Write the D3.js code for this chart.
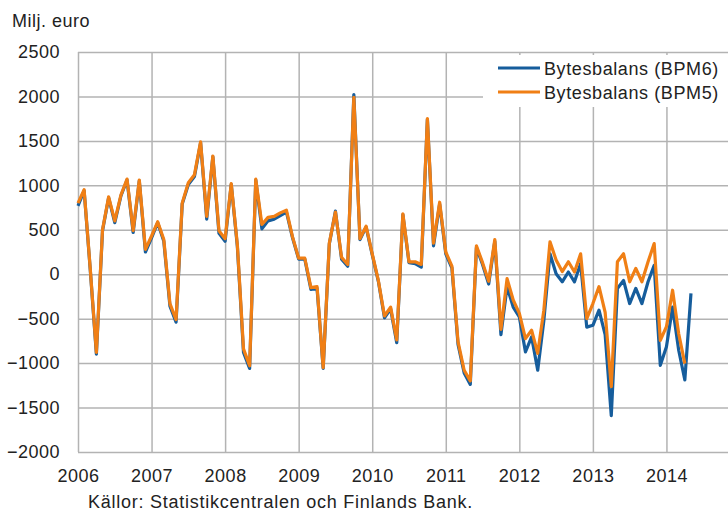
<!DOCTYPE html>
<html>
<head>
<meta charset="utf-8">
<script src="https://cdn.jsdelivr.net/npm/d3@7"></script>
<style>
  body { margin: 0; background: #fff; }
  svg { display: block; font-family: "Liberation Sans", Arial, sans-serif; }
  .grid line { stroke: #b3b3b3; stroke-width: 1.5px; }
  .grid path { display: none; }
  .grid text { font-size: 18px; fill: #222; letter-spacing: 0.5px; }
</style>
</head>
<body>
<svg id="chart" width="728" height="514"></svg>
<script>
"use strict";

// year tick labels
var years = [2006, 2007, 2008, 2009, 2010, 2011, 2012, 2013, 2014];

// y ticks
var y_ticks = [-2000, -1500, -1000, -500, 0, 500, 1000, 1500, 2000, 2500];

// monthly values from Jan 2006, milj. euro
var bpm6 = [
  770, 940, 50, -900, 490, 860, 580, 880, 1060, 470, 1050, 250,
  410, 580, 370, -360, -540, 790, 1010, 1100, 1480, 620, 1320, 460,
  370, 1010, 310, -880, -1060, 1060, 510, 600, 620, 660, 700, 410,
  170, 170, -170, -160, -1060, 340, 710, 170, 90, 2020, 390, 530,
  220, -80, -490, -390, -770, 670, 130, 120, 80, 1740, 320, 790,
  230, 70, -790, -1110, -1240, 300, 110, -110, 370, -680, -140, -370,
  -480, -875, -705, -1080, -520, 230, 5, -85, 25, -85, 120, -595,
  -575, -405, -680, -1590, -160, -70, -330, -160, -330, -85, 100, -1025,
  -815, -370, -855, -1190, -215
];

var bpm5 = [
  800, 950, 60, -880, 500, 870, 600, 890, 1070, 490, 1060, 280,
  430, 590, 390, -330, -510, 800, 1030, 1120, 1490, 650, 1330, 490,
  400, 1020, 330, -840, -1030, 1070, 560, 640, 650, 690, 720, 420,
  180, 180, -150, -140, -1050, 350, 700, 190, 110, 1990, 400, 540,
  230, -70, -470, -370, -740, 680, 140, 140, 110, 1750, 350, 810,
  250, 90, -760, -1080, -1200, 320, 130, -80, 390, -620, -50, -290,
  -440, -725, -630, -890, -405, 365, 160, 30, 140, 25, 230, -500,
  -330, -140, -430, -1265, 140, 230, -85, 65, -85, 140, 345, -745,
  -590, -180, -670, -1005
];

var series = [
  { name: "Bytesbalans (BPM6)", values: bpm6, color: "#165d9c" },
  { name: "Bytesbalans (BPM5)", values: bpm5, color: "#f07f15" }
];

var svg = d3.select("#chart"),
  chart_width = 728,
  plot_left = 78,
  plot_top = 52,
  plot_bottom = 452;

// months since Jan 2006
var x = d3.scaleLinear()
  .domain([0, 108])
  .range([plot_left, 740]);

var y = d3.scaleLinear()
  .domain([-2000, 2500])
  .range([plot_bottom, plot_top]);

// horizontal grid + y labels
svg.append("g")
  .attr("class", "grid")
  .attr("transform", "translate(" + plot_left + ",0)")
  .call(d3.axisLeft(y)
    .tickValues(y_ticks)
    .tickSize(-(chart_width - plot_left))
    .tickPadding(18)
    .tickFormat(d3.format("d")));

// vertical grid + year labels
svg.append("g")
  .attr("class", "grid")
  .attr("transform", "translate(0," + plot_bottom + ")")
  .call(d3.axisBottom(x)
    .tickValues(years.map(function (yr) { return (yr - 2006) * 12; }))
    .tickSize(-(plot_bottom - plot_top))
    .tickPadding(17)
    .tickFormat(function (d, i) { return years[i]; }));

var line = d3.line()
  .x(function (d, i) { return x(i); })
  .y(function (d) { return y(d); });

svg.selectAll(".series")
  .data(series)
  .enter()
  .append("path")
  .attr("class", "series")
  .attr("fill", "none")
  .attr("stroke", function (d) { return d.color; })
  .attr("stroke-width", 3.2)
  .attr("stroke-linejoin", "round")
  .attr("d", function (d) { return line(d.values); });

// legend, white box over grid
var legend = svg.append("g");

legend.append("rect")
  .attr("x", 483)
  .attr("y", 55)
  .attr("width", 245)
  .attr("height", 52)
  .attr("fill", "#fff");

var item = legend.selectAll(".item")
  .data(series)
  .enter()
  .append("g")
  .attr("class", "item")
  .attr("transform", function (d, i) { return "translate(0," + (68 + i * 24) + ")"; });

item.append("line")
  .attr("x1", 498)
  .attr("x2", 540)
  .attr("stroke", function (d) { return d.color; })
  .attr("stroke-width", 3);

item.append("text")
  .attr("x", 544)
  .attr("y", 7)
  .attr("font-size", "18px")
  .attr("letter-spacing", "0.6px")
  .attr("fill", "#222")
  .text(function (d) { return d.name; });

svg.append("text")
  .attr("x", 12)
  .attr("y", 27)
  .attr("font-size", "18px")
  .attr("letter-spacing", "0.5px")
  .attr("fill", "#222")
  .text("Milj. euro");

svg.append("text")
  .attr("x", 88)
  .attr("y", 508)
  .attr("font-size", "18px")
  .attr("letter-spacing", "0.75px")
  .attr("fill", "#222")
  .text("Källor: Statistikcentralen och Finlands Bank.");
</script>
</body>
</html>
